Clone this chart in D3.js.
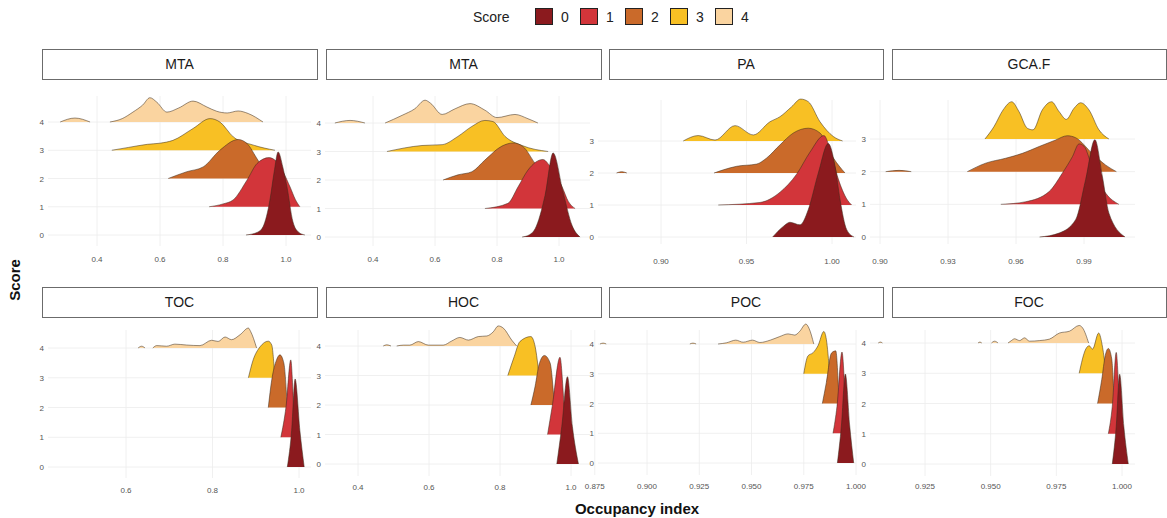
<!DOCTYPE html>
<html>
  <head>
    <meta charset="utf-8">
    <script src="https://d3js.org/d3.v7.min.js"></script>
    <title>Occupancy index ridgelines</title>
    <style>
      body { margin: 0; background: #fff; }
      svg { font-family: "Liberation Sans", Arial, sans-serif; }
      .tick-label { font-size: 8px; fill: #555; }
      .strip-text { font-size: 14px; fill: #1a1a1a; }
      .axis-title { font-size: 15px; font-weight: bold; fill: #111; }
      .legend-text { font-size: 14px; fill: #222; }
    </style>
  </head>
  <body>
    <svg width="1167" height="518"></svg>
    <script>
      // score levels and their fills
      const scores = [0, 1, 2, 3, 4];
      const scoreColors = ['#8b1a1e', '#d2353a', '#ca6a2a', '#f8c024', '#fad4a0'];
      const panelTitles = ['MTA', 'MTA', 'PA', 'GCA.F', 'TOC', 'HOC', 'POC', 'FOC'];

      // x tick values per panel
      const ticksMTA = [0.4, 0.6, 0.8, 1.0];
      const ticksPA = [0.90, 0.95, 1.00];
      const ticksGCA = [0.90, 0.93, 0.96, 0.99];
      const ticksTOC = [0.6, 0.8, 1.0];
      const ticksHOC = [0.4, 0.6, 0.8, 1.0];
      const ticksPOC = [0.875, 0.900, 0.925, 0.950, 0.975, 1.000];
      const ticksFOC = [0.925, 0.950, 0.975, 1.000];

      // ridges: index = score, each a list of segments of [occupancy, height in score units]
      const ridgesMTA1 = [
        [[[0.873,0],[0.91,0.1],[0.927,0.29],[0.949,1.24],[0.962,2.2],[0.975,2.94],[0.99,2.4],[1.003,1.71],[1.022,0.47],[1.04,0.1],[1.06,0]]],
        [[[0.756,0],[0.8,0.1],[0.832,0.24],[0.876,0.94],[0.908,1.53],[0.946,1.74],[0.97,1.6],[1.013,0.7],[1.03,0.25],[1.044,0]]],
        [[[0.626,0],[0.685,0.24],[0.737,0.41],[0.79,1.0],[0.848,1.38],[0.876,1.24],[0.911,0.65],[0.94,0.2],[0.975,0.04],[1.0,0]]],
        [[[0.447,0],[0.5,0.1],[0.56,0.21],[0.6,0.25],[0.641,0.35],[0.705,0.77],[0.759,1.12],[0.79,1.0],[0.833,0.47],[0.897,0.18],[0.965,0]]],
        [[[0.283,0],[0.33,0.14],[0.378,0]],
         [[0.441,0],[0.48,0.12],[0.514,0.35],[0.545,0.6],[0.568,0.86],[0.59,0.7],[0.622,0.35],[0.66,0.5],[0.705,0.74],[0.749,0.53],[0.78,0.38],[0.813,0.32],[0.848,0.39],[0.88,0.3],[0.927,0]]]
      ];
      const ridgesMTA2 = [
        [[[0.881,0],[0.905,0.08],[0.923,0.29],[0.955,1.46],[0.981,2.95],[1.013,1.58],[1.042,0.41],[1.068,0]]],
        [[[0.761,0],[0.835,0.18],[0.868,0.76],[0.9,1.35],[0.948,1.72],[0.97,1.5],[1.01,0.76],[1.03,0.25],[1.052,0]]],
        [[[0.626,0],[0.674,0.18],[0.719,0.29],[0.761,0.7],[0.816,1.19],[0.852,1.3],[0.884,1.17],[0.923,0.58],[0.955,0.15],[0.98,0]]],
        [[[0.445,0],[0.558,0.21],[0.623,0.24],[0.674,0.53],[0.719,0.88],[0.761,1.09],[0.787,1.05],[0.826,0.53],[0.881,0.21],[0.965,0]]],
        [[[0.277,0],[0.326,0.09],[0.374,0]],
         [[0.439,0],[0.494,0.27],[0.535,0.5],[0.568,0.8],[0.585,0.7],[0.623,0.3],[0.665,0.5],[0.713,0.68],[0.761,0.45],[0.8,0.19],[0.858,0.3],[0.9,0.15],[0.932,0]]]
      ];
      const ridgesPA = [
        [[[0.9653,0],[0.9715,0.33],[0.9754,0.46],[0.9813,0.38],[0.9861,0.85],[0.992,2.0],[0.9978,2.92],[1.0018,2.21],[1.0047,1.17],[1.0086,0.23],[1.0129,0]]],
        [[[0.9335,0],[0.9579,0.08],[0.9696,0.4],[0.9794,0.97],[0.9871,1.65],[0.9953,2.17],[0.9988,1.75],[1.0037,0.81],[1.0086,0.19],[1.0115,0]]],
        [[[0.874,0],[0.877,0.04],[0.880,0]],
         [[0.931,0],[0.9365,0.1],[0.9443,0.21],[0.956,0.28],[0.9618,0.47],[0.9696,0.88],[0.9774,1.25],[0.9861,1.4],[0.993,1.25],[1.0008,0.47],[1.0076,0]]],
        [[[0.913,0],[0.9218,0.17],[0.9316,0.03],[0.9433,0.48],[0.954,0.19],[0.9637,0.6],[0.9696,0.76],[0.9764,1.07],[0.9817,1.31],[0.9861,1.23],[0.993,0.6],[1.0008,0.14],[1.0062,0]]]
      ];
      const ridgesGCA = [
        [[[0.9704,0],[0.979,0.12],[0.9863,0.53],[0.9907,1.75],[0.9948,2.98],[0.9981,1.86],[1.001,0.73],[1.0081,0]]],
        [[[0.9533,0],[0.9643,0.08],[0.9746,0.39],[0.9804,0.95],[0.9849,1.46],[0.9878,1.85],[0.99,1.78],[0.9936,1.15],[0.9996,0.34],[1.0054,0]]],
        [[[0.9025,0],[0.9084,0.04],[0.9138,0]],
         [[0.9385,0],[0.9466,0.26],[0.9554,0.41],[0.9628,0.56],[0.9702,0.77],[0.9775,0.97],[0.9826,1.1],[0.9863,1.04],[0.9936,0.56],[0.9996,0.2],[1.0043,0]]],
        [[[0.9463,0],[0.9503,0.38],[0.9543,0.89],[0.9581,1.14],[0.9613,0.84],[0.965,0.33],[0.9675,0.28],[0.9716,0.89],[0.9757,1.14],[0.979,0.84],[0.9822,0.6],[0.9856,0.94],[0.9885,1.11],[0.9922,0.89],[0.9966,0.28],[1.001,0]]]
      ];
      const ridgesTOC = [
        [[[0.973,0],[0.983,1.23],[0.991,2.96],[1.002,1.23],[1.012,0]]],
        [[[0.958,0],[0.97,1.03],[0.981,2.6],[0.988,1.03],[0.995,0]]],
        [[[0.929,0],[0.937,0.93],[0.948,1.6],[0.956,1.77],[0.965,1.49],[0.973,0]]],
        [[[0.883,0],[0.894,0.6],[0.91,1.04],[0.929,1.23],[0.937,1.1],[0.944,0]]],
        [[[0.628,0],[0.636,0.06],[0.644,0]],
         [[0.662,0],[0.671,0.08],[0.694,0.06],[0.713,0.13],[0.74,0.1],[0.771,0.08],[0.798,0.26],[0.813,0.22],[0.829,0.37],[0.844,0.28],[0.864,0.45],[0.883,0.67],[0.888,0.56],[0.902,0]]]
      ];
      const ridgesHOC = [
        [[[0.96,0],[0.974,1.27],[0.99,2.96],[1.004,1.27],[1.021,0]]],
        [[[0.934,0],[0.947,0.95],[0.969,2.62],[0.981,0.95],[0.988,0]]],
        [[[0.887,0],[0.899,0.64],[0.91,1.37],[0.925,1.68],[0.941,1.43],[0.953,0]]],
        [[[0.822,0],[0.84,0.64],[0.856,1.15],[0.887,1.32],[0.899,0.98],[0.91,0]]],
        [[[0.471,0],[0.481,0.04],[0.493,0]],
         [[0.509,0],[0.528,0.03],[0.546,0.03],[0.57,0.15],[0.598,0.03],[0.64,0.03],[0.664,0.17],[0.687,0.29],[0.711,0.2],[0.739,0.32],[0.763,0.34],[0.781,0.48],[0.795,0.68],[0.81,0.6],[0.833,0.2],[0.847,0]]]
      ];
      const ridgesPOC = [
        [[[0.9911,0],[0.993,1.24],[0.9949,2.99],[0.997,1.24],[0.9989,0]]],
        [[[0.989,0],[0.9909,0.9],[0.9933,2.73],[0.9951,0.9],[0.9962,0]]],
        [[[0.9839,0],[0.9858,0.7],[0.9882,1.69],[0.9903,1.77],[0.9919,0]]],
        [[[0.975,0],[0.977,0.6],[0.9795,0.71],[0.9818,0.94],[0.9846,1.42],[0.9858,1.16],[0.9874,0]]],
        [[[0.8775,0],[0.879,0.03],[0.8805,0]],
         [[0.9205,0],[0.922,0.03],[0.9235,0]],
         [[0.934,0],[0.938,0.04],[0.9425,0.13],[0.946,0.06],[0.9505,0.13],[0.954,0.05],[0.959,0.13],[0.9635,0.25],[0.9675,0.34],[0.9707,0.3],[0.973,0.42],[0.976,0.67],[0.9775,0.53],[0.9798,0]]]
      ];
      const ridgesFOC = [
        [[[0.9963,0],[0.9978,1.24],[0.9991,2.97],[1.0007,1.24],[1.0024,0]]],
        [[[0.9948,0],[0.9963,0.91],[0.9978,2.69],[0.9991,0.91],[1.0001,0]]],
        [[[0.9907,0],[0.9923,0.8],[0.9936,1.58],[0.9948,1.82],[0.9961,1.47],[0.997,0]]],
        [[[0.9837,0],[0.9862,0.8],[0.9875,0.91],[0.9888,0.8],[0.9911,1.33],[0.9926,0.86],[0.9939,0]]],
        [[[0.9072,0],[0.908,0.03],[0.9088,0]],
         [[0.9452,0],[0.9459,0.03],[0.9466,0]],
         [[0.9503,0],[0.9515,0.06],[0.9528,0]],
         [[0.9566,0],[0.9579,0.08],[0.9591,0.14],[0.961,0.08],[0.9629,0.17],[0.9648,0.06],[0.9686,0.08],[0.9724,0.13],[0.9762,0.33],[0.98,0.39],[0.9837,0.58],[0.985,0.5],[0.9873,0]]]
      ];

      const panelRidges = [ridgesMTA1, ridgesMTA2, ridgesPA, ridgesGCA, ridgesTOC, ridgesHOC, ridgesPOC, ridgesFOC];
      const panelTicks = [ticksMTA, ticksMTA, ticksPA, ticksGCA, ticksTOC, ticksHOC, ticksPOC, ticksFOC];
      const panelFormats = ['.1f', '.1f', '.2f', '.2f', '.1f', '.1f', '.3f', '.3f'];

      // layout (pixel anchors for each facet)
      const layout = [
        {strip: [42, 317, 49], plot: [48, 311], xd: [0.4, 1.0], xr: [97, 286], yr: [235, 122], vg: [96, 246], ty: 262},
        {strip: [326, 601, 49], plot: [325, 590], xd: [0.4, 1.0], xr: [373, 559], yr: [237, 123], vg: [96, 246], ty: 262},
        {strip: [609, 883, 49], plot: [598, 856], xd: [0.90, 1.00], xr: [661, 832], yr: [237, 141], vg: [100, 244], ty: 264},
        {strip: [892, 1166, 49], plot: [870, 1135], xd: [0.90, 0.99], xr: [880, 1084], yr: [237, 139], vg: [100, 244], ty: 264},
        {strip: [42, 317, 287], plot: [48, 311], xd: [0.6, 1.0], xr: [126, 299], yr: [467, 348], vg: [330, 478], ty: 493},
        {strip: [326, 601, 287], plot: [325, 590], xd: [0.4, 1.0], xr: [358, 571], yr: [464, 346], vg: [330, 476], ty: 490},
        {strip: [609, 883, 287], plot: [598, 856], xd: [0.900, 1.000], xr: [647, 856], yr: [463, 344], vg: [330, 475], ty: 489},
        {strip: [892, 1166, 287], plot: [870, 1135], xd: [0.925, 1.000], xr: [925, 1122], yr: [464, 343], vg: [330, 476], ty: 489}
      ];

      const svg = d3.select('svg');
      svg.append('rect').attr('width', 1167).attr('height', 518).attr('fill', '#fff');

      panelTitles.forEach((title, i) => {
        const L = layout[i];
        const ridges = panelRidges[i];
        const maxScore = ridges.length - 1;
        const g = svg.append('g');

        // strip
        g.append('rect')
          .attr('x', L.strip[0] + 0.5).attr('y', L.strip[2] + 0.5)
          .attr('width', L.strip[1] - L.strip[0]).attr('height', 30)
          .attr('fill', '#fff').attr('stroke', '#6b6b6b').attr('stroke-width', 1);
        g.append('text').attr('class', 'strip-text')
          .attr('x', (L.strip[0] + L.strip[1]) / 2).attr('y', L.strip[2] + 20)
          .attr('text-anchor', 'middle').text(title);

        const x = d3.scaleLinear().domain(L.xd).range(L.xr);
        const y = d3.scaleLinear().domain([0, maxScore]).range(L.yr);

        // grid
        g.selectAll('.vg').data(panelTicks[i]).enter().append('line')
          .attr('x1', d => x(d)).attr('x2', d => x(d))
          .attr('y1', L.vg[0]).attr('y2', L.vg[1])
          .attr('stroke', '#ececec').attr('stroke-width', 0.8);
        const levels = scores.slice(0, maxScore + 1);
        g.selectAll('.hg').data(levels).enter().append('line')
          .attr('x1', L.plot[0]).attr('x2', L.plot[1])
          .attr('y1', d => y(d)).attr('y2', d => y(d))
          .attr('stroke', '#ececec').attr('stroke-width', 0.8);

        // tick labels
        const fmt = d3.format(panelFormats[i]);
        g.selectAll('.xl').data(panelTicks[i]).enter().append('text')
          .attr('class', 'tick-label')
          .attr('x', d => x(d)).attr('y', L.ty)
          .attr('text-anchor', 'middle').text(d => fmt(d));
        g.selectAll('.yl').data(levels).enter().append('text')
          .attr('class', 'tick-label')
          .attr('x', L.plot[0] - 4).attr('y', d => y(d) + 3)
          .attr('text-anchor', 'end').text(d => d);

        // ridges, top level first so lower scores sit in front
        const area = d3.area()
          .x(d => x(d[0]))
          .y0(() => 0)
          .curve(d3.curveMonotoneX);
        const line = d3.line().x(d => x(d[0])).curve(d3.curveMonotoneX);
        for (let s = maxScore; s >= 0; s--) {
          ridges[s].forEach(seg => {
            area.y0(y(s)).y1(d => y(s + d[1]));
            line.y(d => y(s + d[1]));
            g.append('path').attr('d', area(seg))
              .attr('fill', scoreColors[s]).attr('stroke', 'none');
            g.append('path').attr('d', line(seg))
              .attr('fill', 'none').attr('stroke', '#3a2a1c')
              .attr('stroke-opacity', 0.65).attr('stroke-width', 0.8);
          });
        }
      });

      // axis titles
      svg.append('text').attr('class', 'axis-title')
        .attr('transform', 'translate(20,280) rotate(-90)')
        .attr('text-anchor', 'middle').text('Score');
      svg.append('text').attr('class', 'axis-title')
        .attr('x', 637).attr('y', 514)
        .attr('text-anchor', 'middle').text('Occupancy index');

      // legend
      const legend = svg.append('g');
      legend.append('text').attr('class', 'legend-text')
        .attr('x', 473).attr('y', 22).text('Score');
      const lx = d3.scalePoint().domain(scores).range([535, 715]);
      const items = legend.selectAll('.li').data(scores).enter().append('g');
      items.append('rect')
        .attr('x', d => lx(d) + 0.5).attr('y', 8.5)
        .attr('width', 17).attr('height', 16)
        .attr('fill', d => scoreColors[d]).attr('stroke', '#222').attr('stroke-width', 1);
      items.append('text').attr('class', 'legend-text')
        .attr('x', d => lx(d) + 26).attr('y', 22).text(d => d);
    </script>
  </body>
</html>
